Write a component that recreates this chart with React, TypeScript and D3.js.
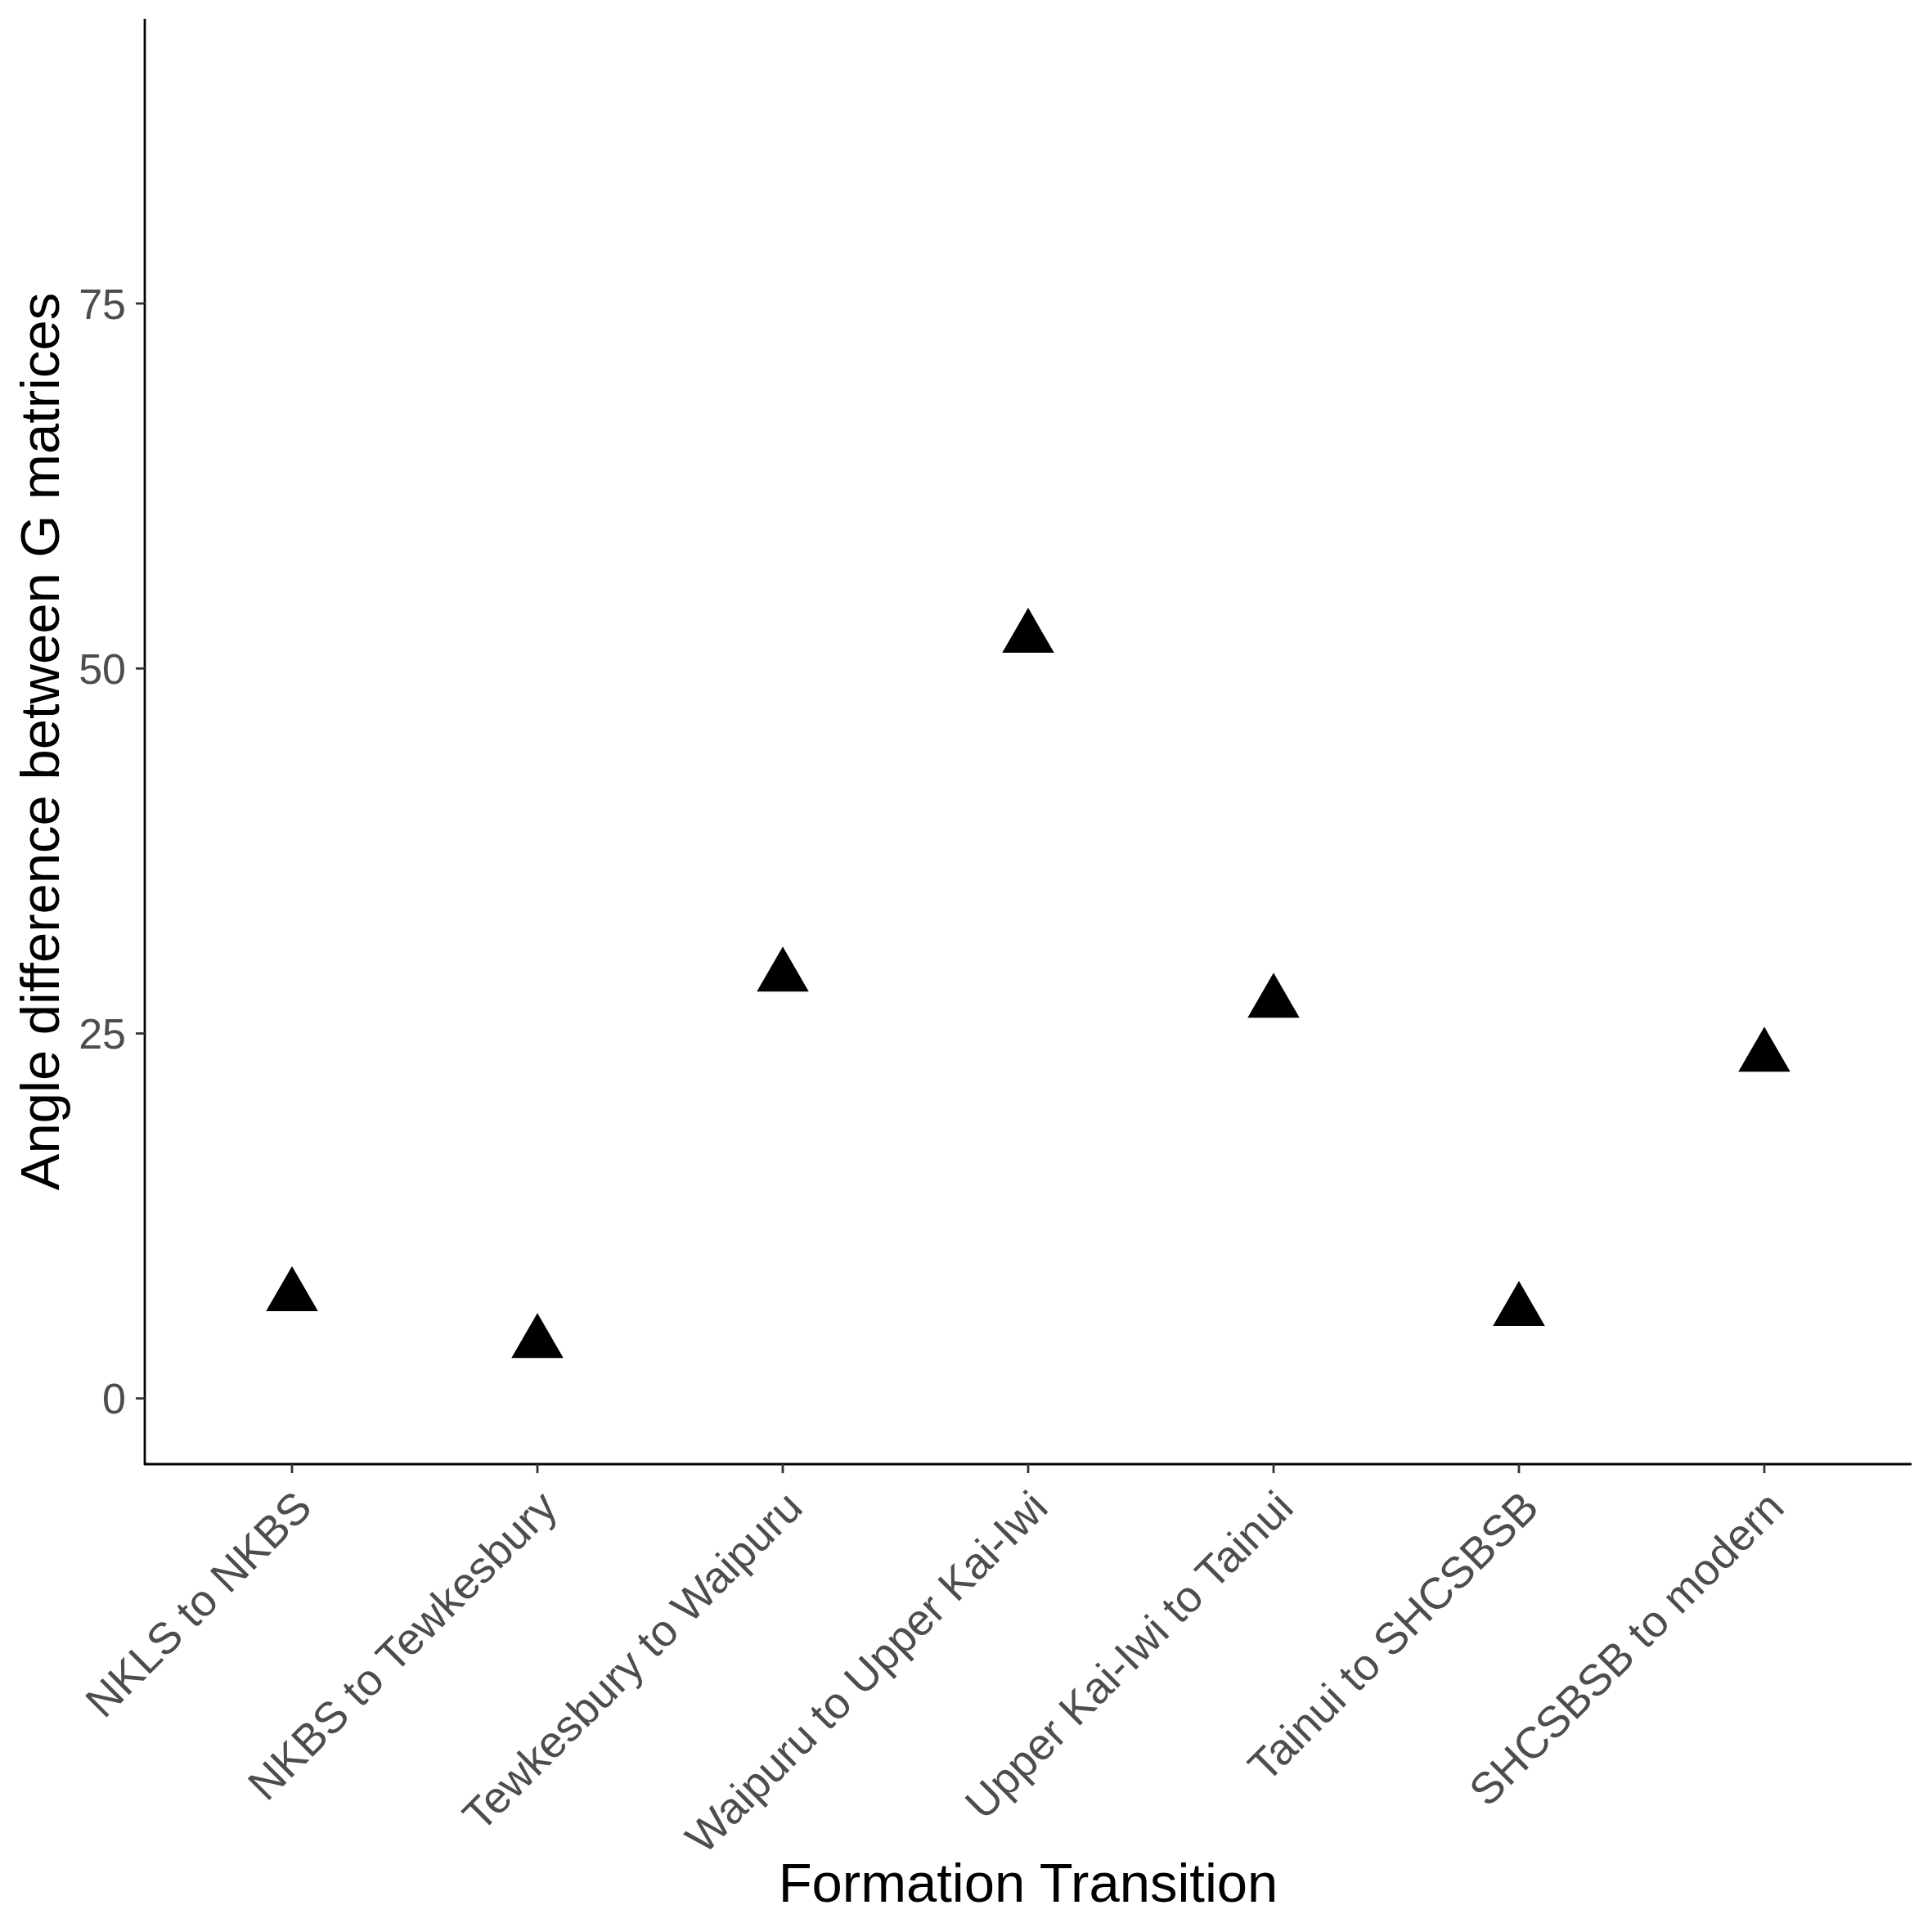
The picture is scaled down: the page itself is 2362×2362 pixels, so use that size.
import React from 'react';
import * as d3 from 'd3';

const transitions = [
  'NKLS to NKBS',
  'NKBS to Tewkesbury',
  'Tewkesbury to Waipuru',
  'Waipuru to Upper Kai-Iwi',
  'Upper Kai-Iwi to Tainui',
  'Tainui to SHCSBSB',
  'SHCSBSB to modern',
];

const angles = [7.0, 3.8, 28.9, 52.1, 27.1, 6.0, 23.4];

const yTicks = [0, 25, 50, 75];
const yLimits = [0, 90];

const W = 2362;
const H = 2362;
const font = '"Liberation Sans", Arial, Helvetica, sans-serif';

export default function App() {
  const left = 177;
  const right = 2337;
  const top = 23;
  const bottom = 1790;

  // ggplot-style expansion: 5% on continuous, 0.6 units on discrete
  const span = yLimits[1] - yLimits[0];
  const y = d3.scaleLinear()
    .domain([yLimits[0] - span * 0.05, yLimits[1] + span * 0.05])
    .range([bottom, top]);

  const x = d3.scalePoint<string>()
    .domain(transitions)
    .range([left, right])
    .padding(0.6);

  const tri = d3.symbol().type(d3.symbolTriangle).size(1746)();

  return (
    <svg width={W} height={H} style={{ position: 'absolute', left: 0, top: 0, background: '#fff' }}
      fontFamily={font}>
      <rect width={W} height={H} fill="#fff" />

      {/* points */}
      {transitions.map((t, i) => (
        <path key={t} d={tri!} fill="#000"
          transform={`translate(${x(t)},${y(angles[i])})`} />
      ))}

      {/* y axis */}
      <line x1={left} x2={left} y1={top} y2={bottom + 1} stroke="#000" strokeWidth={2.8} />
      {yTicks.map(v => (
        <g key={v}>
          <line x1={left - 11} x2={left} y1={y(v)} y2={y(v)} stroke="#333" strokeWidth={2.8} />
          <text x={154} y={y(v)} dy="0.36em" textAnchor="end" fontSize={52} fill="#4d4d4d">{v}</text>
        </g>
      ))}

      {/* x axis */}
      <line x1={left - 1} x2={right} y1={bottom} y2={bottom} stroke="#000" strokeWidth={2.8} />
      {transitions.map(t => {
        const tx = x(t)!;
        const ax = tx + 27;
        const ay = 1846;
        return (
          <g key={t}>
            <line x1={tx} x2={tx} y1={bottom} y2={bottom + 11} stroke="#333" strokeWidth={2.8} />
            <text x={ax} y={ay} textAnchor="end" fontSize={54} fill="#4d4d4d"
              transform={`rotate(-45,${ax},${ay})`}>{t}</text>
          </g>
        );
      })}

      {/* titles */}
      <text x={(left + right) / 2} y={2325} textAnchor="middle" fontSize={67} fill="#000">
        Formation Transition
      </text>
      <text x={72} y={(top + bottom) / 2} textAnchor="middle" fontSize={67} fill="#000"
        transform={`rotate(-90,72,${(top + bottom) / 2})`}>
        Angle difference between G matrices
      </text>
    </svg>
  );
}
